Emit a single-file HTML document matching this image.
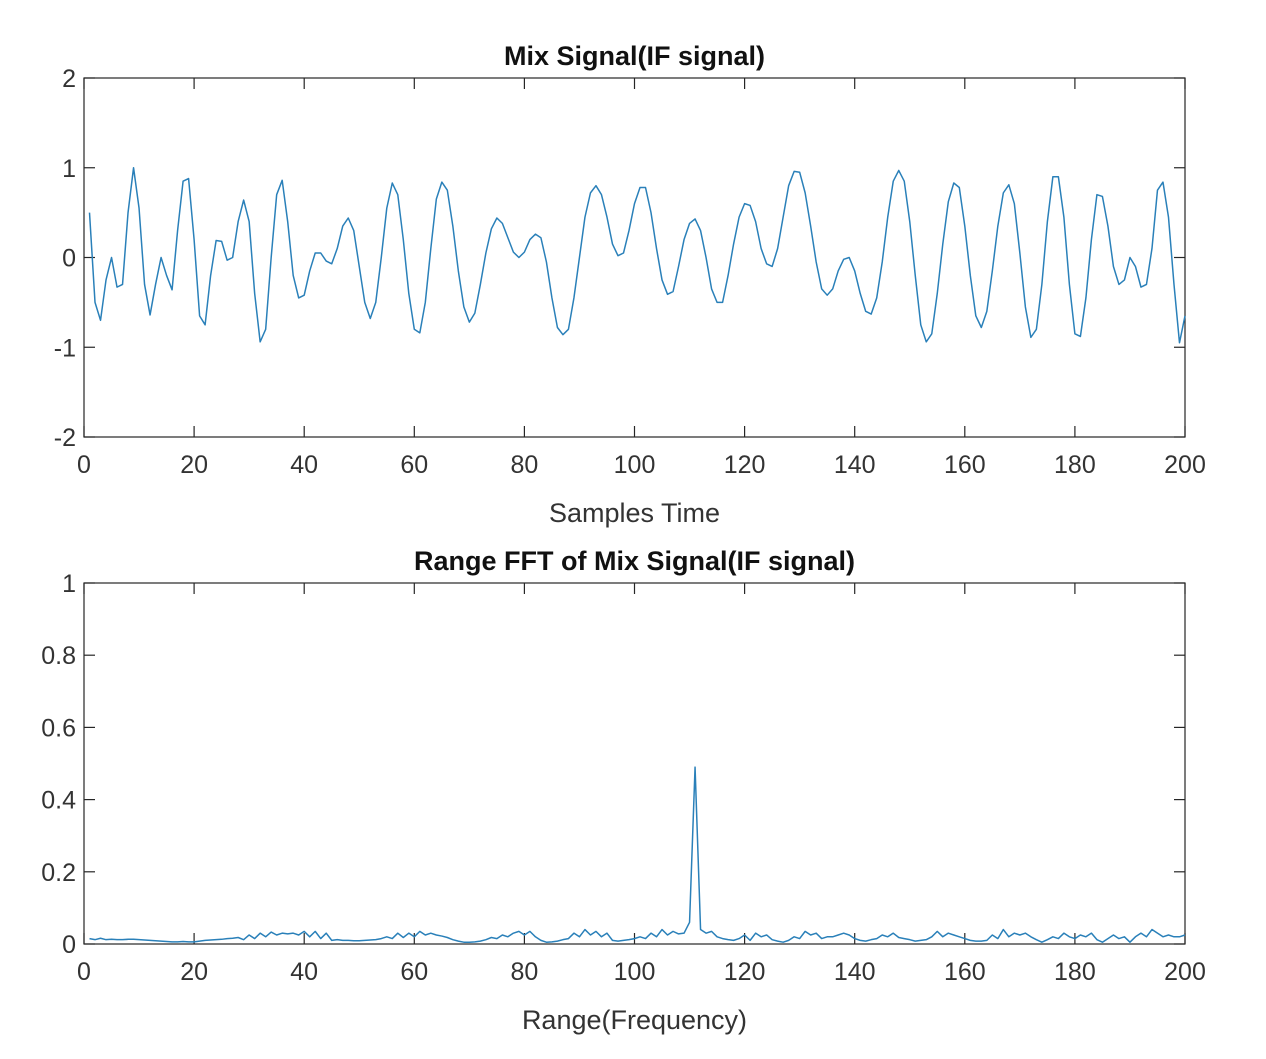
<!DOCTYPE html>
<html><head><meta charset="utf-8"><style>
html,body{margin:0;padding:0;background:#fff;}
svg text{font-family:"Liberation Sans",sans-serif;}
</style></head><body>
<svg id="fig" width="1266" height="1054" viewBox="0 0 1266 1054" xmlns="http://www.w3.org/2000/svg"></svg>
<script>
const mixValues=[0.5,-0.5,-0.7,-0.25,0.0,-0.33,-0.3,0.5,1.0,0.55,-0.3,-0.64,-0.3,0.0,-0.2,-0.36,0.3,0.85,0.88,0.2,-0.65,-0.75,-0.2,0.19,0.18,-0.03,0.0,0.4,0.64,0.4,-0.4,-0.94,-0.8,0.0,0.7,0.86,0.4,-0.2,-0.45,-0.42,-0.15,0.05,0.05,-0.04,-0.07,0.1,0.35,0.44,0.3,-0.1,-0.5,-0.68,-0.5,0.0,0.55,0.83,0.7,0.2,-0.4,-0.8,-0.84,-0.5,0.1,0.65,0.84,0.75,0.35,-0.15,-0.55,-0.72,-0.62,-0.3,0.05,0.32,0.44,0.38,0.22,0.06,0.0,0.06,0.2,0.26,0.22,-0.05,-0.45,-0.78,-0.86,-0.8,-0.45,0.0,0.45,0.72,0.8,0.7,0.45,0.15,0.02,0.05,0.3,0.6,0.78,0.78,0.5,0.1,-0.25,-0.41,-0.38,-0.1,0.2,0.38,0.43,0.3,0.0,-0.35,-0.5,-0.5,-0.2,0.15,0.45,0.6,0.58,0.4,0.1,-0.07,-0.1,0.1,0.45,0.8,0.96,0.95,0.72,0.35,-0.05,-0.35,-0.42,-0.35,-0.15,-0.02,0.0,-0.15,-0.4,-0.6,-0.63,-0.45,-0.05,0.45,0.85,0.97,0.85,0.4,-0.2,-0.75,-0.94,-0.85,-0.4,0.15,0.62,0.83,0.78,0.35,-0.2,-0.65,-0.78,-0.6,-0.15,0.35,0.72,0.81,0.6,0.05,-0.55,-0.89,-0.8,-0.3,0.4,0.9,0.9,0.45,-0.3,-0.85,-0.88,-0.45,0.2,0.7,0.68,0.35,-0.1,-0.3,-0.25,0.0,-0.1,-0.33,-0.3,0.1,0.75,0.84,0.45,-0.3,-0.95,-0.65];
const fftValues=[0.015,0.012,0.016,0.012,0.013,0.012,0.012,0.013,0.013,0.012,0.011,0.01,0.009,0.008,0.007,0.006,0.006,0.007,0.006,0.006,0.008,0.01,0.011,0.012,0.013,0.015,0.016,0.018,0.012,0.025,0.015,0.03,0.02,0.033,0.025,0.03,0.028,0.03,0.025,0.035,0.02,0.035,0.015,0.03,0.01,0.012,0.01,0.01,0.009,0.009,0.01,0.011,0.012,0.015,0.02,0.015,0.03,0.018,0.03,0.02,0.035,0.025,0.03,0.025,0.022,0.018,0.012,0.008,0.005,0.005,0.006,0.008,0.012,0.018,0.015,0.025,0.02,0.03,0.035,0.025,0.035,0.02,0.01,0.005,0.006,0.008,0.012,0.015,0.03,0.02,0.04,0.025,0.035,0.02,0.03,0.01,0.008,0.01,0.012,0.015,0.02,0.015,0.03,0.02,0.04,0.025,0.035,0.028,0.03,0.06,0.49,0.04,0.03,0.035,0.02,0.015,0.012,0.01,0.015,0.025,0.01,0.03,0.02,0.025,0.012,0.008,0.005,0.01,0.02,0.015,0.035,0.025,0.03,0.015,0.02,0.02,0.025,0.03,0.025,0.015,0.01,0.008,0.012,0.015,0.025,0.02,0.03,0.018,0.015,0.012,0.008,0.01,0.012,0.02,0.035,0.02,0.03,0.025,0.02,0.015,0.01,0.008,0.008,0.01,0.025,0.015,0.04,0.02,0.03,0.025,0.03,0.02,0.012,0.005,0.012,0.02,0.015,0.03,0.02,0.015,0.025,0.02,0.03,0.012,0.005,0.015,0.025,0.015,0.02,0.005,0.02,0.03,0.02,0.04,0.03,0.02,0.025,0.02,0.02,0.025];
const xTicks=[0,20,40,60,80,100,120,140,160,180,200];
const yTicksTop=[-2,-1,0,1,2];
const yTicksBot=[0,0.2,0.4,0.6,0.8,1];
const yTickLabelsBot=['0','0.2','0.4','0.6','0.8','1'];

const NS='http://www.w3.org/2000/svg';
const svg=document.getElementById('fig');
function mk(tag,attrs,parent){const e=document.createElementNS(NS,tag);for(const k in attrs)e.setAttribute(k,attrs[k]);(parent||svg).appendChild(e);return e;}

function drawAxes(cfg){
  const {left,right,top,bottom,ymin,ymax,yTicks,yLabels,values,title,xlabel,name}=cfg;
  const g=mk('g',{});
  
  
  const xs=v=>left+(v-0)/(200-0)*(right-left);
  const ys=v=>bottom-(v-ymin)/(ymax-ymin)*(bottom-top);
  const box=mk('rect',{x:left,y:top,width:right-left,height:bottom-top,fill:'#fff',stroke:'#262626','stroke-width':1.2},g);
  
  
  xTicks.forEach(t=>{
    const x=xs(t);
    mk('line',{x1:x,x2:x,y1:bottom,y2:bottom-11,stroke:'#262626','stroke-width':1.2},g);
    mk('line',{x1:x,x2:x,y1:top,y2:top+11,stroke:'#262626','stroke-width':1.2},g);
    const tx=mk('text',{x:x,y:bottom+36,'text-anchor':'middle','font-size':25,fill:'#333'},g);
    tx.textContent=String(t);
    
    
  });
  yTicks.forEach((t,i)=>{
    const y=ys(t);
    mk('line',{x1:left,x2:left+11,y1:y,y2:y,stroke:'#262626','stroke-width':1.2},g);
    mk('line',{x1:right,x2:right-11,y1:y,y2:y,stroke:'#262626','stroke-width':1.2},g);
    const tx=mk('text',{x:left-8,y:y+9,'text-anchor':'end','font-size':25,fill:'#333'},g);
    tx.textContent=yLabels[i];
    
    
  });
  const pts=values.slice(0,200).map((v,i)=>xs(i+1).toFixed(2)+','+ys(v).toFixed(2)).join(' ');
  const line=mk('polyline',{points:pts,fill:'none',stroke:'#2a80b9','stroke-width':1.5,'stroke-linejoin':'round'},g);
  
  
  const tt=mk('text',{x:(left+right)/2,y:top-13,'text-anchor':'middle','font-size':27,'font-weight':'bold',fill:'#111'},g);
  tt.textContent=title;
  
  
  const xl=mk('text',{x:(left+right)/2,y:bottom+85,'text-anchor':'middle','font-size':27,fill:'#333'},g);
  xl.textContent=xlabel;
  
  
}
drawAxes({left:84,right:1185,top:78,bottom:437,ymin:-2,ymax:2,yTicks:yTicksTop,yLabels:yTicksTop.map(String),values:mixValues,title:'Mix Signal(IF signal)',xlabel:'Samples Time',name:'mix-signal'});
drawAxes({left:84,right:1185,top:583,bottom:944,ymin:0,ymax:1,yTicks:yTicksBot,yLabels:yTickLabelsBot,values:fftValues,title:'Range FFT of Mix Signal(IF signal)',xlabel:'Range(Frequency)',name:'range-fft'});
</script>
</body></html>
